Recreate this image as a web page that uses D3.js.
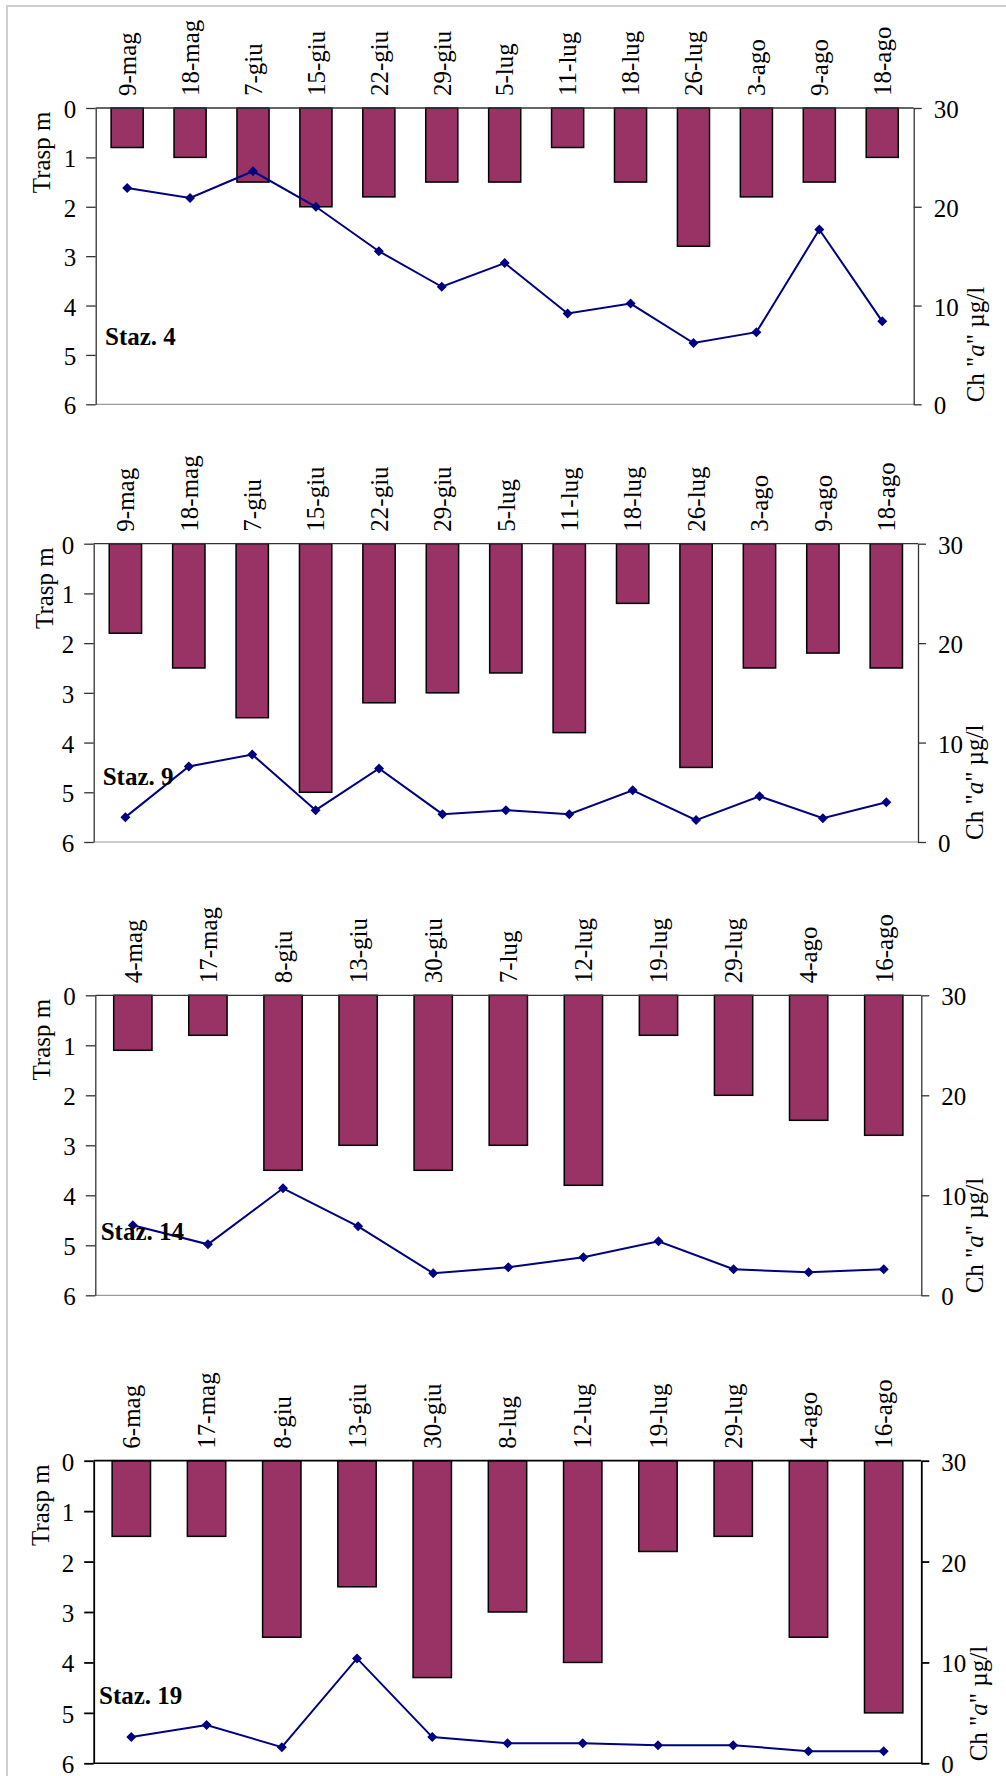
<!DOCTYPE html>
<html>
<head>
<meta charset="utf-8">
<script src="https://cdn.jsdelivr.net/npm/d3@7"></script>
<style>
  html, body { margin: 0; padding: 0; background: #fff; }
  svg { display: block; }
  text { font-family: "Liberation Serif", "Times New Roman", serif; fill: #000; }
</style>
</head>
<body>
<svg id="chart" width="1006" height="1776"></svg>
<script>
// ---- Data ----
const stations = ["Staz. 4", "Staz. 9", "Staz. 14", "Staz. 19"];

const cats4 = ["9-mag","18-mag","7-giu","15-giu","22-giu","29-giu","5-lug","11-lug","18-lug","26-lug","3-ago","9-ago","18-ago"];
const trasp4 = [0.8, 1.0, 1.5, 2.0, 1.8, 1.5, 1.5, 0.8, 1.5, 2.8, 1.8, 1.5, 1.0];
const chla4 = [21.9, 20.9, 23.6, 20.0, 15.5, 11.9, 14.3, 9.2, 10.2, 6.2, 7.3, 17.7, 8.4];

const cats9 = ["9-mag","18-mag","7-giu","15-giu","22-giu","29-giu","5-lug","11-lug","18-lug","26-lug","3-ago","9-ago","18-ago"];
const trasp9 = [1.8, 2.5, 3.5, 5.0, 3.2, 3.0, 2.6, 3.8, 1.2, 4.5, 2.5, 2.2, 2.5];
const chla9 = [2.5, 7.6, 8.8, 3.2, 7.4, 2.8, 3.2, 2.8, 5.2, 2.2, 4.6, 2.4, 4.0];

const cats14 = ["4-mag","17-mag","8-giu","13-giu","30-giu","7-lug","12-lug","19-lug","29-lug","4-ago","16-ago"];
const trasp14 = [1.1, 0.8, 3.5, 3.0, 3.5, 3.0, 3.8, 0.8, 2.0, 2.5, 2.8];
const chla14 = [7.0, 5.1, 10.7, 6.9, 2.2, 2.8, 3.8, 5.4, 2.6, 2.3, 2.6];

const cats19 = ["6-mag","17-mag","8-giu","13-giu","30-giu","8-lug","12-lug","19-lug","29-lug","4-ago","16-ago"];
const trasp19 = [1.5, 1.5, 3.5, 2.5, 4.3, 3.0, 4.0, 1.8, 1.5, 3.5, 5.0];
const chla19 = [2.6, 3.8, 1.6, 10.4, 2.6, 2.0, 2.0, 1.8, 1.8, 1.2, 1.2];

const traspTicks = [0, 1, 2, 3, 4, 5, 6];
const chlaTicks = [0, 10, 20, 30];
const leftTitle = "Trasp m";

// ---- Layout (positions only) ----
const panels = [
  { cats: cats4,  trasp: trasp4,  chla: chla4,  name: stations[0], left: 95.7, right: 913.7, top: 108,    bottom: 404.3,  lt: 50,   rt: 984,  sx: 105,   sy: 345,  axis: "#333", base: "#999" },
  { cats: cats9,  trasp: trasp9,  chla: chla9,  name: stations[1], left: 93.7, right: 918,   top: 543.7,  bottom: 842,    lt: 53,   rt: 983,  sx: 102.7, sy: 785,  axis: "#333", base: "#999" },
  { cats: cats14, trasp: trasp14, chla: chla14, name: stations[2], left: 95.3, right: 921.3, top: 995.3,  bottom: 1295.3, lt: 50,   rt: 983,  sx: 100.7, sy: 1240, axis: "#333", base: "#999" },
  { cats: cats19, trasp: trasp19, chla: chla19, name: stations[3], left: 93.7, right: 921.3, top: 1460.7, bottom: 1763.3, lt: 48.5, rt: 987,  sx: 99,    sy: 1704, axis: "#000", base: "#000" }
];

const svg = d3.select("#chart");
const FS = 25;

// outer frame (left and top edges visible)
svg.append("rect")
  .attr("x", 7).attr("y", 6).attr("width", 1200).attr("height", 2000)
  .attr("fill", "none").attr("stroke", "#cfcfcf").attr("stroke-width", 2);

panels.forEach(p => {
  const g = svg.append("g");
  const x = d3.scaleBand().domain(p.cats).range([p.left, p.right]).paddingInner(0.49).paddingOuter(0.245);
  const yL = d3.scaleLinear().domain([0, 6]).range([p.top, p.bottom]);
  const yR = d3.scaleLinear().domain([0, 30]).range([p.bottom, p.top]);
  const xc = d => x(d) + x.bandwidth() / 2;
  const sw = p.axis === "#000" ? 1.8 : 1.3;

  // bottom line
  g.append("line")
    .attr("x1", p.left).attr("x2", p.right)
    .attr("y1", p.bottom).attr("y2", p.bottom)
    .attr("stroke", p.base).attr("stroke-width", p.axis === "#000" ? 1.6 : 1.2);

  // bars
  g.append("g").selectAll("rect").data(p.cats).join("rect")
    .attr("x", d => x(d))
    .attr("y", yL(0))
    .attr("width", x.bandwidth())
    .attr("height", (d, i) => yL(p.trasp[i]) - yL(0))
    .attr("fill", "#993366")
    .attr("stroke", "#000")
    .attr("stroke-width", 1.5);

  // left axis
  const la = g.append("g").attr("transform", `translate(${p.left},0)`)
    .call(d3.axisLeft(yL).tickValues(traspTicks).tickFormat(d3.format("d")).tickSize(9.5).tickSizeOuter(0).tickPadding(10));
  la.selectAll("path, line").attr("stroke", p.axis).attr("stroke-width", sw);
  la.selectAll("text").attr("font-size", FS).attr("font-family", "Liberation Serif, serif").attr("dy", "0.38em");

  // right axis
  const ra = g.append("g").attr("transform", `translate(${p.right},0)`)
    .call(d3.axisRight(yR).tickValues(chlaTicks).tickFormat(d3.format("d")).tickSize(8).tickSizeOuter(0).tickPadding(12));
  ra.selectAll("path, line").attr("stroke", p.axis).attr("stroke-width", sw);
  ra.selectAll("text").attr("font-size", FS).attr("font-family", "Liberation Serif, serif").attr("dy", "0.38em");

  // top category axis (labels rotated, reading bottom-to-top)
  const ta = g.append("g").attr("transform", `translate(0,${p.top})`)
    .call(d3.axisTop(x).tickSize(0).tickSizeOuter(0));
  ta.select("path").attr("stroke", p.axis).attr("stroke-width", sw)
    .attr("d", `M${p.left},0H${p.right}`);
  ta.selectAll("text")
    .attr("font-size", FS).attr("font-family", "Liberation Serif, serif")
    .attr("transform", "rotate(-90)")
    .attr("x", 12).attr("y", 0).attr("dy", "0.35em")
    .attr("text-anchor", "start");

  // line series
  const line = d3.line().x((d, i) => xc(p.cats[i])).y(d => yR(d));
  g.append("path").datum(p.chla)
    .attr("d", line).attr("fill", "none")
    .attr("stroke", "#000080").attr("stroke-width", 2);
  const sym = d3.symbol(d3.symbolSquare, 50);
  g.append("g").selectAll("path").data(p.chla).join("path")
    .attr("d", sym)
    .attr("transform", (d, i) => `translate(${xc(p.cats[i])},${yR(d)}) rotate(45)`)
    .attr("fill", "#000080");

  // left title
  g.append("text")
    .attr("transform", `translate(${p.lt},${p.top + 3.5}) rotate(-90)`)
    .attr("text-anchor", "end")
    .attr("font-size", FS)
    .text(leftTitle);

  // right title
  const rt = g.append("text")
    .attr("transform", `translate(${p.rt},${p.bottom - 2}) rotate(-90)`)
    .attr("text-anchor", "start")
    .attr("font-size", FS);
  rt.append("tspan").text('Ch "');
  rt.append("tspan").attr("font-style", "italic").text("a");
  rt.append("tspan").text('" µg/l');

  // station label
  g.append("text")
    .attr("x", p.sx).attr("y", p.sy)
    .attr("font-size", FS).attr("font-weight", "bold")
    .text(p.name);
});
</script>
</body>
</html>
